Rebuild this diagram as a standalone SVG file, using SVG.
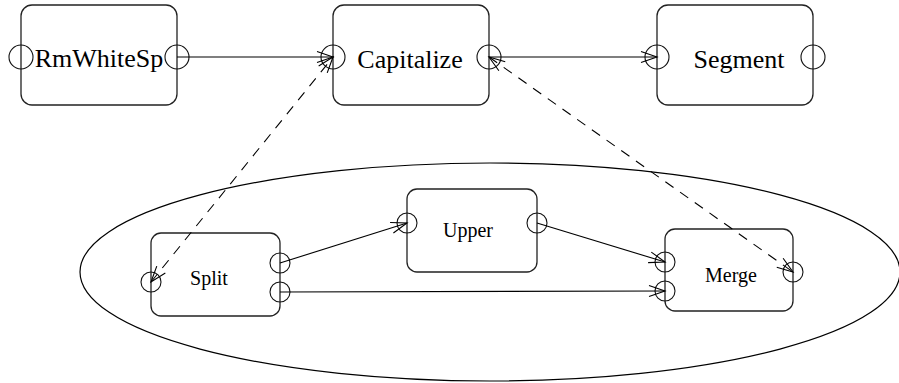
<svg xmlns="http://www.w3.org/2000/svg" width="899" height="383" viewBox="0 0 899 383">
<style>
.box{fill:none;stroke:#222;stroke-width:1.3}
.port{fill:none;stroke:#111;stroke-width:1.1}
.big{font-family:"Liberation Serif","Times New Roman",serif;font-size:26px;text-anchor:middle;fill:#000}
.small{font-family:"Liberation Serif","Times New Roman",serif;font-size:20px;text-anchor:middle;fill:#000}
.e{fill:none;stroke:#000;stroke-width:1.1}
.d{stroke-dasharray:10 8}
</style>
<defs>
<marker id="a" markerUnits="userSpaceOnUse" markerWidth="22" markerHeight="14" refX="17" refY="6" orient="auto-start-reverse" viewBox="0 0 22 12">
<path d="M1,0.5 L17,6 L1,11.5" fill="none" stroke="#000" stroke-width="1.1"/>
</marker>
</defs>
<ellipse cx="490" cy="272" rx="410" ry="109" fill="none" stroke="#000" stroke-width="1.2"/>
<g id="RmWhiteSp">
<rect class="box" x="21" y="5" width="156" height="100" rx="11"/>
<circle class="port" cx="21" cy="57" r="12"/>
<circle class="port" cx="177" cy="57" r="12"/>
<text class="big" x="99" y="67">RmWhiteSp</text>
</g>
<g id="Capitalize">
<rect class="box" x="333" y="5" width="156" height="100" rx="11"/>
<circle class="port" cx="333" cy="57" r="12"/>
<circle class="port" cx="489" cy="57" r="12"/>
<text class="big" x="410" y="68">Capitalize</text>
</g>
<g id="Segment">
<rect class="box" x="657" y="5" width="156" height="100" rx="11"/>
<circle class="port" cx="657" cy="57" r="12"/>
<circle class="port" cx="813" cy="57" r="12"/>
<text class="big" x="739" y="68">Segment</text>
</g>
<g id="Split">
<rect class="box" x="151" y="233" width="129" height="83" rx="10"/>
<circle class="port" cx="151" cy="282" r="10"/>
<circle class="port" cx="280" cy="263" r="10"/>
<circle class="port" cx="280" cy="292" r="10"/>
<text class="small" x="209" y="285">Split</text>
</g>
<g id="Upper">
<rect class="box" x="407" y="189" width="130" height="83" rx="10"/>
<circle class="port" cx="407" cy="223" r="10"/>
<circle class="port" cx="537" cy="223" r="10"/>
<text class="small" x="468" y="237">Upper</text>
</g>
<g id="Merge">
<rect class="box" x="665" y="229" width="128" height="82" rx="10"/>
<circle class="port" cx="665" cy="262" r="10"/>
<circle class="port" cx="665" cy="291" r="10"/>
<circle class="port" cx="793" cy="272" r="10"/>
<text class="small" x="731" y="282">Merge</text>
</g>
<g id="connectors">
<line class="e" x1="177" y1="57" x2="333" y2="57" marker-end="url(#a)"/>
<line class="e" x1="489" y1="57" x2="657" y2="57" marker-end="url(#a)"/>
<line class="e d" x1="151" y1="282" x2="333" y2="57" marker-start="url(#a)" marker-end="url(#a)"/>
<line class="e d" x1="489" y1="57" x2="793" y2="272" marker-start="url(#a)" marker-end="url(#a)"/>
<line class="e" x1="280" y1="263" x2="407" y2="223" marker-end="url(#a)"/>
<line class="e" x1="537" y1="223" x2="665" y2="262" marker-end="url(#a)"/>
<line class="e" x1="280" y1="292" x2="665" y2="291" stroke-width="1.6" marker-end="url(#a)"/>
</g>
</svg>
